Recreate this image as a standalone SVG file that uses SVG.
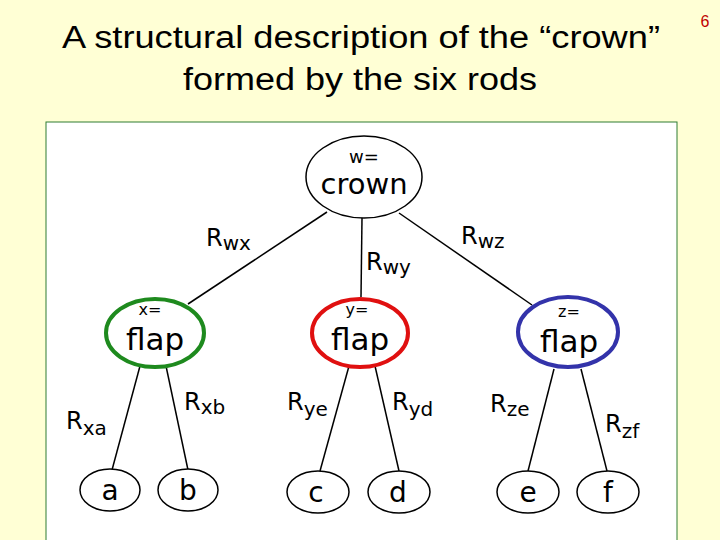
<svg xmlns="http://www.w3.org/2000/svg" width="720" height="540" viewBox="0 0 720 540">
<style>
.t{font-family:"Liberation Sans",Arial,sans-serif;font-size:31px;fill:#000}
.n{fill:#fff;stroke:#000;stroke-width:1.5}
.h{font-family:"DejaVu Sans",sans-serif;fill:#000}
.l{stroke:#000;stroke-width:1.5}
</style>
<rect width="720" height="540" fill="#ffffd5"/>
<text class="t" x="62" y="48" textLength="598" lengthAdjust="spacingAndGlyphs">A structural description of the “crown”</text>
<text class="t" x="183" y="90" textLength="354" lengthAdjust="spacingAndGlyphs">formed by the six rods</text>
<text x="705" y="27" font-family="Liberation Sans,sans-serif" font-size="16" fill="#c00000" text-anchor="middle">6</text>
<rect x="46" y="122" width="631" height="430" fill="#fff" stroke="#2e7d32" stroke-width="1"/>
<g id="connectors">
<line class="l" x1="327" y1="212" x2="188" y2="304"/>
<line class="l" x1="362" y1="218" x2="361" y2="297"/>
<line class="l" x1="399" y1="213" x2="532" y2="305"/>
<line class="l" x1="140" y1="366" x2="112" y2="470"/>
<line class="l" x1="166" y1="366" x2="188" y2="470"/>
<line class="l" x1="349" y1="366" x2="320" y2="471"/>
<line class="l" x1="375" y1="366" x2="399" y2="471"/>
<line class="l" x1="554" y1="369" x2="528" y2="471"/>
<line class="l" x1="581" y1="369" x2="607" y2="471"/>
</g>
<g id="labels" class="h">
<text x="206" y="246" font-size="24">R<tspan font-size="20" dy="4">wx</tspan></text>
<text x="366" y="270" font-size="24">R<tspan font-size="20" dy="4">wy</tspan></text>
<text x="461" y="244" font-size="24">R<tspan font-size="20" dy="4">wz</tspan></text>
<text x="66" y="429" font-size="24">R<tspan font-size="20" dy="6">xa</tspan></text>
<text x="184" y="410" font-size="24">R<tspan font-size="20" dy="4">xb</tspan></text>
<text x="287" y="410" font-size="24">R<tspan font-size="20" dy="6">ye</tspan></text>
<text x="392" y="410" font-size="24">R<tspan font-size="20" dy="6">yd</tspan></text>
<text x="490" y="412" font-size="24">R<tspan font-size="20" dy="4">ze</tspan></text>
<text x="605" y="432" font-size="24">R<tspan font-size="20" dy="6">zf</tspan></text>
</g>
<g id="w"><ellipse class="n" cx="364" cy="177" rx="58" ry="41"/>
<text class="h" x="364" y="163" font-size="18" text-anchor="middle">w=</text>
<text class="h" x="364" y="194" font-size="29" text-anchor="middle">crown</text></g>
<g id="x"><ellipse class="n" cx="155" cy="333" rx="49" ry="34" style="stroke:#1e8a1e;stroke-width:4"/>
<text class="h" x="150" y="315" font-size="16" text-anchor="middle">x=</text>
<text class="h" x="155" y="350" font-size="31" text-anchor="middle">flap</text></g>
<g id="y"><ellipse class="n" cx="360" cy="333" rx="48" ry="34" style="stroke:#e01010;stroke-width:4"/>
<text class="h" x="357" y="315" font-size="16" text-anchor="middle">y=</text>
<text class="h" x="360" y="350" font-size="31" text-anchor="middle">flap</text></g>
<g id="z"><ellipse class="n" cx="568" cy="332" rx="50" ry="35" style="stroke:#3333aa;stroke-width:4"/>
<text class="h" x="569" y="317" font-size="16" text-anchor="middle">z=</text>
<text class="h" x="569" y="352" font-size="31" text-anchor="middle">flap</text></g>
<g id="a"><ellipse class="n" cx="110" cy="490" rx="30" ry="21"/><text class="h" x="110" y="500" font-size="28" text-anchor="middle">a</text></g>
<g id="b"><ellipse class="n" cx="188" cy="490" rx="30" ry="21"/><text class="h" x="188" y="500" font-size="28" text-anchor="middle">b</text></g>
<g id="c"><ellipse class="n" cx="318" cy="492" rx="31" ry="21"/><text class="h" x="316" y="502" font-size="28" text-anchor="middle">c</text></g>
<g id="d"><ellipse class="n" cx="399" cy="492" rx="31" ry="21"/><text class="h" x="398" y="502" font-size="28" text-anchor="middle">d</text></g>
<g id="e"><ellipse class="n" cx="528" cy="492" rx="31" ry="21"/><text class="h" x="528" y="502" font-size="28" text-anchor="middle">e</text></g>
<g id="f"><ellipse class="n" cx="608" cy="492" rx="31" ry="21"/><text class="h" x="608" y="502" font-size="28" text-anchor="middle">f</text></g>
</svg>
